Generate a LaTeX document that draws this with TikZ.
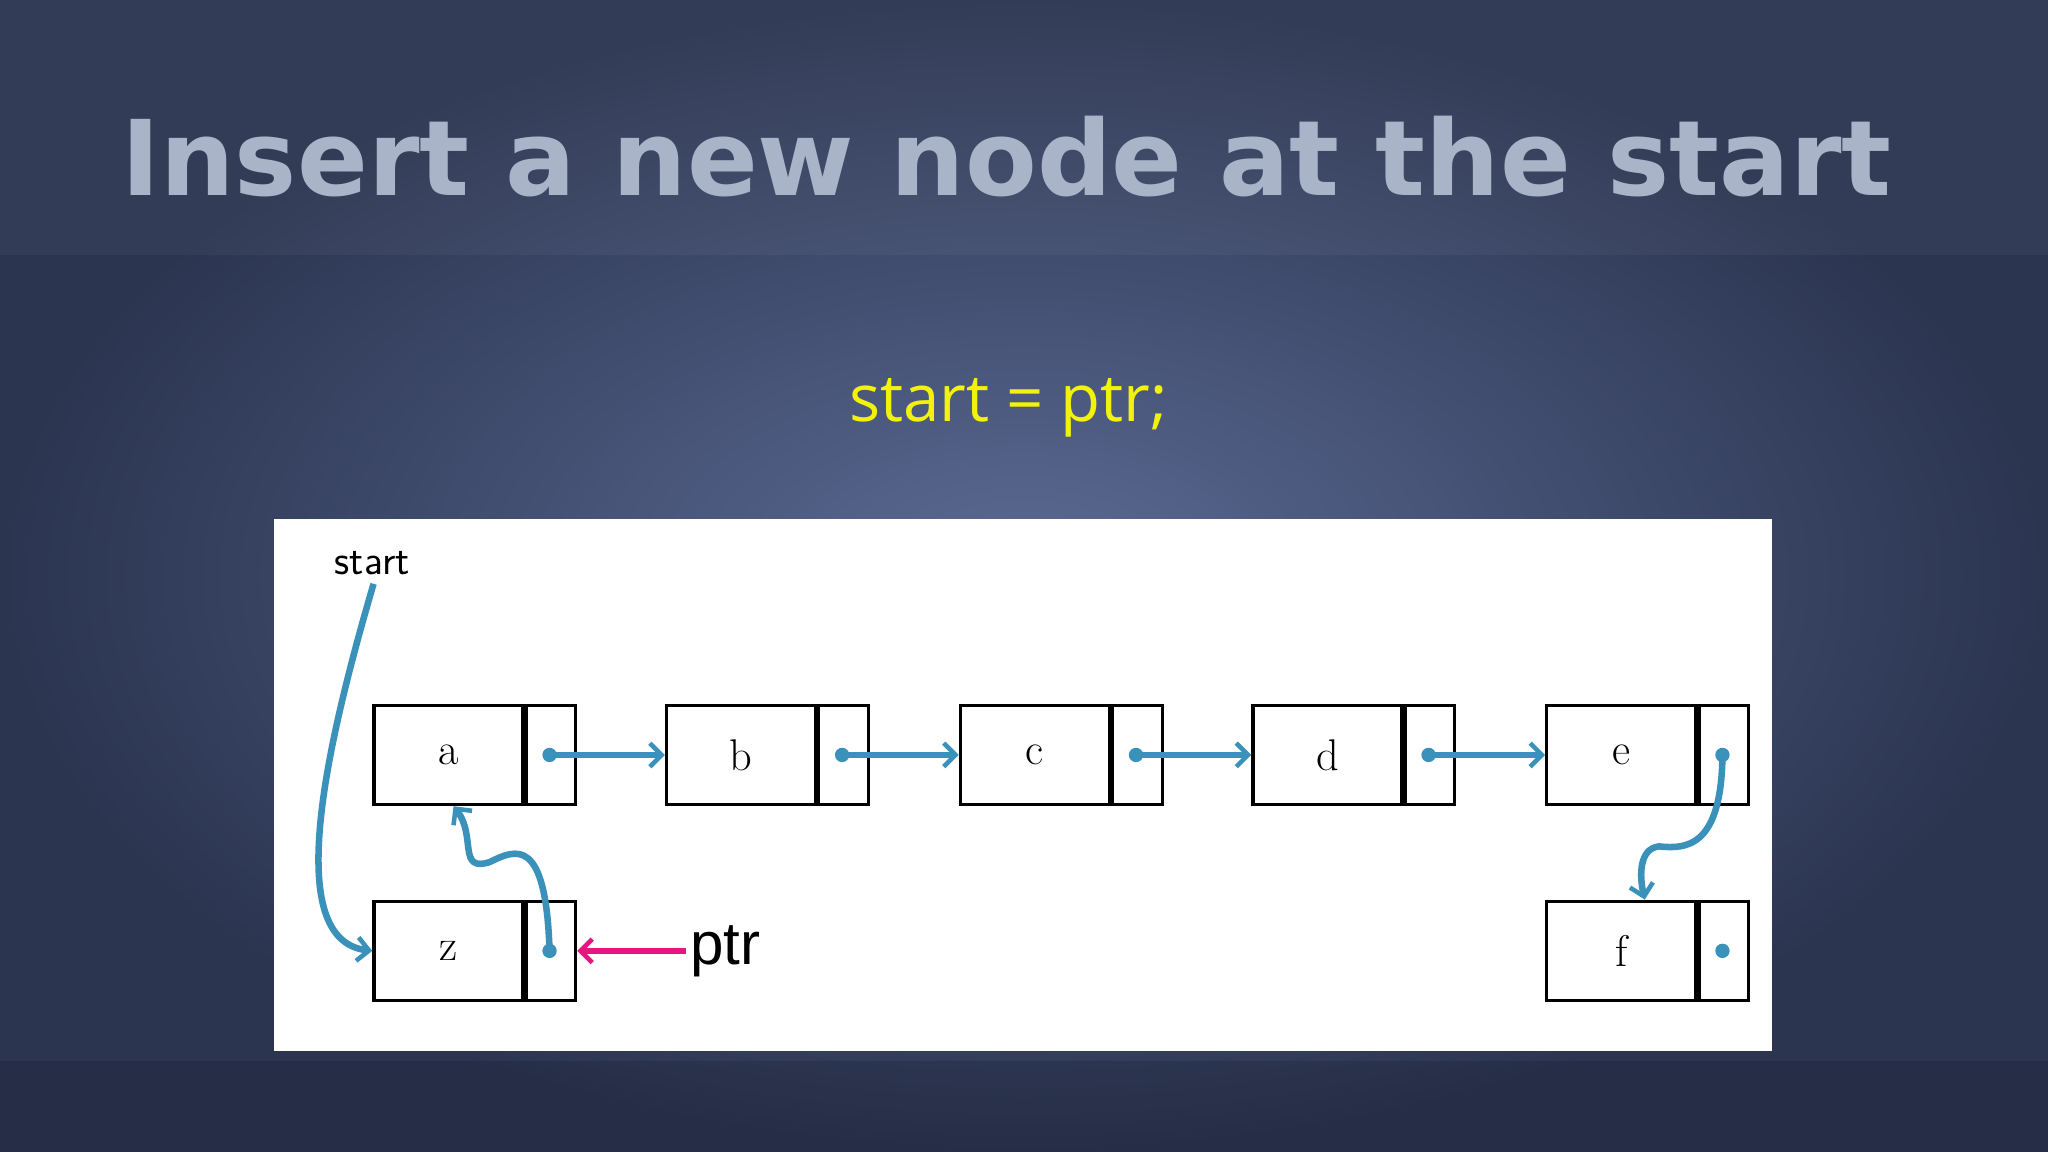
\documentclass[tikz,border=0pt]{standalone}
\usepackage{fontspec}
\setmainfont{Latin Modern Roman}
\newfontfamily\titlefont{DejaVu Sans}
\newfontfamily\codefont{Open Sans}
\newfontfamily\arialf{Liberation Sans}
\usetikzlibrary{arrows.meta}
\definecolor{bgdark}{HTML}{2B3550}
\definecolor{bglight}{HTML}{5C6A94}
\definecolor{titlec}{HTML}{A9B4C8}
\definecolor{lnk}{HTML}{3A92BA}
\definecolor{mag}{HTML}{E6157F}
\definecolor{yel}{HTML}{F2F20A}
\begin{document}
\begin{tikzpicture}[x=1pt,y=-1pt,
  cell/.style={draw=black,line width=2.5pt,minimum width=114pt,minimum height=76pt,inner sep=0pt,font=\fontsize{34}{34}\selectfont},
  ptrcell/.style={draw=black,line width=2.5pt,minimum width=38pt,minimum height=76pt,inner sep=0pt},
  link/.style={lnk,line width=5pt,-{Straight Barb[length=9pt,width=18pt,line width=3.5pt]}},
  dotc/.style={circle,fill=lnk,inner sep=0pt,minimum size=11pt}]
\useasboundingbox (0,0) rectangle (1568,882);
\fill[bgdark] (0,0) rectangle (1568,882);
\shade[inner color=bglight,outer color=bgdark] (0,0) rectangle (1568,882);
\fill[white,opacity=0.04] (0,0) rectangle (1568,195);
\fill[black,opacity=0.12] (0,812) rectangle (1568,882);
\node[anchor=base west,text=titlec,inner sep=0pt,font=\titlefont\bfseries\fontsize{80}{80}\selectfont] (title) at (93,150) {Insert a new node at the start};
\node[text=yel,font=\codefont\fontsize{50}{50}\selectfont] (code) at (772,312) {start = ptr;};
\fill[white] (210,397) rectangle (1357,805);
\node[anchor=base,font=\sffamily\fontsize{32}{32}\selectfont] (startl) at (285,440) {start};
\foreach \n/\x/\y/\t in {a/285/578/a,b/509/578/b,c/734/578/c,d/958/578/d,e/1183/578/e,z/285/728/z,f/1183/728/f}{
  \node[cell,anchor=west] (\n) at (\x,\y) {\t};
  \node[ptrcell,anchor=west] (\n p) at (\n.east) {};
  \node[dotc] (\n d) at ([xshift=-1pt]\n p.center) {};
}
\draw[link] (ad.center) -- (b.west);
\draw[link] (bd.center) -- (c.west);
\draw[link] (cd.center) -- (d.west);
\draw[link] (dd.center) -- (e.west);
\coordinate (st) at (286,447);
\draw[link] (st) .. controls (250,570) and (215,720) .. (z.west);
\draw[link] (zd.center) .. controls (418,640) and (395,650) .. (375,660) .. controls (350,668) and (365,640) .. ([xshift=4pt]a.south);
\draw[link] (ed.center) .. controls (1318,650) and (1290,650) .. (1270,648) .. controls (1255,650) and (1255,670) .. ([xshift=18pt]f.north);
\node[anchor=west,font=\arialf\fontsize{46}{46}\selectfont] (ptr) at (525,728) {ptr};
\draw[mag,line width=5pt,-{Straight Barb[length=9pt,width=18pt,line width=3.5pt]}] (ptr.west) -- (zp.east);
\end{tikzpicture}
\end{document}
